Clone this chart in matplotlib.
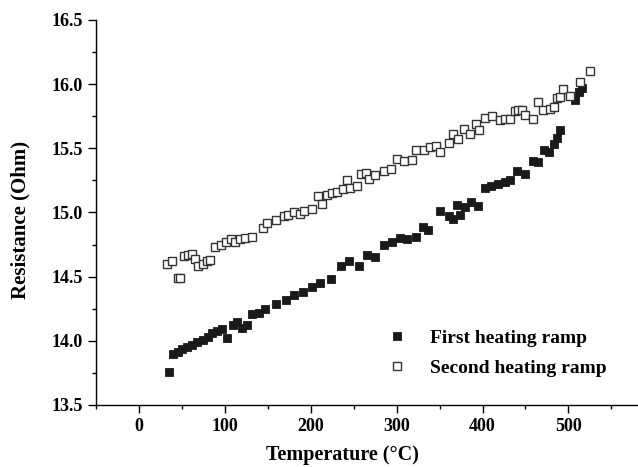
import matplotlib.pyplot as plt
from matplotlib.ticker import MultipleLocator

plt.rcParams['font.family'] = 'Liberation Serif'
plt.rcParams['font.weight'] = 'bold'

# first heating ramp (filled squares)
temp_1 = [35, 40, 45, 50, 56, 62, 68, 74, 80, 85, 91, 97, 103, 109, 114, 120, 126,
          132, 140, 147, 159, 171, 180, 191, 202, 211, 223, 235, 245, 256, 266, 275,
          285, 295, 304, 312, 322, 331, 337, 351, 361, 366, 370, 374, 380, 386, 395,
          403, 410, 418, 426, 432, 440, 450, 459, 465, 471, 477, 483, 487, 490, 508,
          512, 516]
res_1 = [13.76, 13.90, 13.91, 13.94, 13.95, 13.97, 13.99, 14.01, 14.03, 14.06, 14.08,
         14.09, 14.02, 14.12, 14.15, 14.10, 14.12, 14.21, 14.22, 14.25, 14.29, 14.32,
         14.36, 14.38, 14.42, 14.45, 14.48, 14.58, 14.62, 14.58, 14.67, 14.65, 14.75,
         14.77, 14.80, 14.79, 14.81, 14.89, 14.86, 15.01, 14.97, 14.95, 15.06, 14.98,
         15.04, 15.08, 15.05, 15.19, 15.21, 15.22, 15.24, 15.25, 15.32, 15.30, 15.40,
         15.39, 15.49, 15.47, 15.53, 15.58, 15.64, 15.88, 15.94, 15.97]

# second heating ramp (open squares)
temp_2 = [33, 39, 45, 48, 52, 57, 62, 65, 69, 74, 79, 83, 89, 95, 101, 107, 112, 118,
          124, 132, 144, 149, 159, 169, 173, 180, 188, 192, 201, 208, 213, 219, 225,
          231, 238, 242, 246, 254, 258, 264, 268, 275, 285, 294, 300, 308, 318, 323,
          332, 339, 346, 351, 361, 366, 372, 378, 385, 392, 396, 403, 411, 420, 426,
          432, 438, 441, 446, 450, 459, 465, 470, 478, 483, 487, 490, 494, 502, 513,
          525]
res_2 = [14.60, 14.62, 14.49, 14.49, 14.66, 14.67, 14.68, 14.64, 14.58, 14.60, 14.62,
         14.63, 14.73, 14.75, 14.77, 14.79, 14.77, 14.79, 14.80, 14.81, 14.88, 14.92,
         14.94, 14.97, 14.98, 15.00, 14.99, 15.01, 15.03, 15.13, 15.07, 15.14, 15.15,
         15.16, 15.18, 15.25, 15.19, 15.21, 15.30, 15.31, 15.26, 15.29, 15.32, 15.34,
         15.42, 15.40, 15.41, 15.49, 15.49, 15.51, 15.52, 15.47, 15.54, 15.61, 15.57,
         15.65, 15.61, 15.69, 15.64, 15.74, 15.75, 15.72, 15.73, 15.73, 15.79, 15.80,
         15.80, 15.76, 15.73, 15.86, 15.80, 15.81, 15.82, 15.89, 15.90, 15.96, 15.91,
         16.02, 16.10]

fig = plt.figure(figsize = (6.38, 4.67), dpi = 100)
ax = fig.add_axes([0.1505, 0.1328, 0.8495, 0.8244])

ax.plot(temp_1, res_1, 's', color = '#1a1a1a', markersize = 6.4, markeredgewidth = 0.6,
        label = 'First heating ramp')
ax.plot(temp_2, res_2, 's', markerfacecolor = 'white', markeredgecolor = '#333333',
        markersize = 6.4, markeredgewidth = 1.0, label = 'Second heating ramp')

ax.set_xlim(-50, 581)
ax.set_ylim(13.5, 16.5)
ax.xaxis.set_major_locator(MultipleLocator(100))
ax.xaxis.set_minor_locator(MultipleLocator(50))
ax.yaxis.set_major_locator(MultipleLocator(0.5))
ax.yaxis.set_minor_locator(MultipleLocator(0.25))
ax.yaxis.set_major_formatter(plt.FormatStrFormatter('%.1f'))

for side in ['top', 'right']:
    ax.spines[side].set_visible(False)
for side in ['left', 'bottom']:
    ax.spines[side].set_linewidth(1.0)
ax.tick_params(which = 'major', length = 5.8, width = 1.0, labelsize = 13)
ax.tick_params(which = 'minor', length = 3, width = 1.0)

ax.set_xlabel('Temperature (°C)', fontsize = 14.5, fontweight = 'bold')
ax.set_ylabel('Resistance (Ohm)', fontsize = 15, fontweight = 'bold')
ax.xaxis.set_label_coords(0.455, -0.105)
ax.yaxis.set_label_coords(-0.121, 0.48)

leg = ax.legend(loc = 'upper left', bbox_to_anchor = (0.519, 0.221), frameon = False,
                fontsize = 14, handlelength = 1.0, handletextpad = 1.2,
                labelspacing = 0.6, borderpad = 0, markerscale = 0.85)

plt.savefig('out.png', dpi = 100)
